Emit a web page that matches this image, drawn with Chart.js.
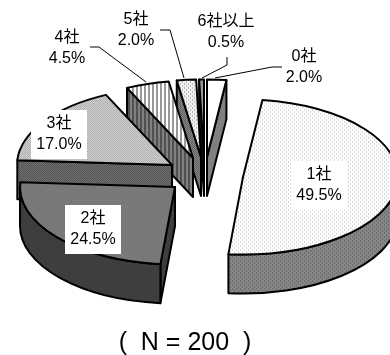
<!DOCTYPE html>
<html>
<head>
<meta charset="utf-8">
<style>
  html, body { margin: 0; padding: 0; background: #fff; }
  canvas { display: block; }
</style>
<script src="https://cdn.jsdelivr.net/npm/chart.js@4"></script>
</head>
<body>
<canvas id="chart" width="390" height="355"></canvas>
<script>
// Data, clockwise from the top
const categories = ["0社", "1社", "2社", "3社", "4社", "5社", "6社以上"];
const shares = [2.0, 49.5, 24.5, 17.0, 4.5, 2.0, 0.5];
const note = "(  N = 200  )";

// Layout of the exploded 3D pie
const FONT = '"Liberation Sans", "Noto Sans CJK JP", sans-serif';
const CX = 204.3, CY = 175, RADIUS = 155, SQUASH = 0.5, DEPTH = 39;
const EXPLODE_X = 38.5, EXPLODE_Y = 18;

// Small tile patterns: [size, base colour, dot colour, dot cells]
function tile(w, h, base, dot, cells, squashed) {
  const c = document.createElement("canvas");
  c.width = w; c.height = h;
  const g = c.getContext("2d");
  g.fillStyle = base;
  g.fillRect(0, 0, w, h);
  g.fillStyle = dot;
  cells.forEach(([x, y]) => g.fillRect(x, y, 1, 1));
  const p = g.createPattern(c, "repeat");
  // top faces are filled under the squash, so undo it for the tile
  if (squashed) p.setTransform(new DOMMatrix().scale(1, 1 / SQUASH));
  return p;
}
const dots4 = [[0, 0], [0, 1], [2, 2], [2, 3]];
const check = [[0, 0], [1, 1]];
const stripes = [[0, 0], [1, 0], [0, 1], [1, 1]];

const topFill = [
  "#ffffff",
  tile(4, 4, "#ffffff", "#d6d6d6", dots4, true),
  tile(2, 2, "#808080", "#727272", check, true),
  tile(2, 2, "#d0d0d0", "#b0b0b0", check, true),
  tile(4, 2, "#ffffff", "#999999", stripes, true),
  tile(4, 4, "#f0f0f0", "#b8b8b8", dots4, true),
  "#999999"
];
const wallFill = [
  "#808080",
  tile(4, 4, "#868686", "#6c6c6c", dots4, false),
  tile(2, 2, "#444444", "#383838", check, false),
  tile(2, 2, "#6c6c6c", "#585858", check, false),
  tile(4, 2, "#808080", "#505050", stripes, false),
  tile(2, 2, "#888888", "#606060", check, false),
  "#333333"
];

// Text block centres, with the two line baselines taken as centre -/+ 10.5
const labelSpots = [
  { x: 304, y: 67 },
  { x: 319, y: 185, box: true },
  { x: 93, y: 229, box: true },
  { x: 59, y: 134, box: true },
  { x: 67, y: 48 },
  { x: 136, y: 30 },
  { x: 226, y: 32 }
];
const leaders = [
  [[282, 67], [272, 67], [215, 78]],
  [[90, 47], [99, 47], [146, 82]],
  [[160, 30], [170, 30], [184, 78]],
  [[227, 57], [227, 65], [202, 78]]
];

function sliceCentre(arc) {
  const mid = (arc.startAngle + arc.endAngle) / 2;
  return {
    x: Math.round(CX + EXPLODE_X * Math.cos(mid)),
    y: Math.round(CY + EXPLODE_Y * Math.sin(mid))
  };
}

function drawCut(ctx, c, angle, R, fill) {
  const rx = c.x + R * Math.cos(angle);
  const ry = c.y + R * SQUASH * Math.sin(angle);
  ctx.beginPath();
  ctx.moveTo(c.x, c.y);
  ctx.lineTo(rx, ry);
  ctx.lineTo(rx, ry + DEPTH);
  ctx.lineTo(c.x, c.y + DEPTH);
  ctx.closePath();
  ctx.fillStyle = fill;
  ctx.fill();
  ctx.stroke();
}

const pie3d = {
  id: "pie3d",
  // replaces the flat draw: walls first, then the library's own arcs squashed
  beforeDatasetsDraw(chart) {
    const ctx = chart.ctx;
    const arcs = chart.getDatasetMeta(0).data.map((arc, i) => ({ arc, i, c: sliceCentre(arc) }));
    arcs.sort((a, b) => a.c.y - b.c.y);
    ctx.save();
    ctx.strokeStyle = "#000";
    ctx.lineWidth = 2;
    ctx.lineJoin = "round";
    arcs.forEach(({ arc, i, c }) => {
      const R = arc.outerRadius, a0 = arc.startAngle, a1 = arc.endAngle;
      if (Math.cos(a0) < -1e-6) drawCut(ctx, c, a0, R, wallFill[i]);
      if (Math.cos(a1) > 1e-6) drawCut(ctx, c, a1, R, wallFill[i]);
      const w0 = Math.max(a0, 0), w1 = Math.min(a1, Math.PI);
      if (w0 < w1) {
        ctx.beginPath();
        ctx.ellipse(c.x, c.y, R, R * SQUASH, 0, w0, w1);
        ctx.ellipse(c.x, c.y + DEPTH, R, R * SQUASH, 0, w1, w0, true);
        ctx.closePath();
        ctx.fillStyle = wallFill[i];
        ctx.fill();
        ctx.stroke();
      }
      ctx.save();
      ctx.translate(Math.round(c.x - arc.x), Math.round(c.y - arc.y * SQUASH));
      ctx.scale(1, SQUASH);
      arc.draw(ctx);
      ctx.restore();
      ctx.beginPath();
      ctx.moveTo(c.x, c.y);
      ctx.ellipse(c.x, c.y, R, R * SQUASH, 0, a0, a1);
      ctx.closePath();
      ctx.stroke();
    });
    ctx.restore();
    return false;
  },
  afterDraw(chart) {
    const ctx = chart.ctx;
    ctx.save();
    ctx.strokeStyle = "#000";
    ctx.lineWidth = 1;
    leaders.forEach(line => {
      ctx.beginPath();
      line.forEach(([x, y], k) => k ? ctx.lineTo(x, y) : ctx.moveTo(x, y));
      ctx.stroke();
    });
    ctx.font = "16px " + FONT;
    ctx.textAlign = "center";
    ctx.textBaseline = "middle";
    categories.forEach((name, i) => {
      const s = labelSpots[i];
      if (s.box) {
        ctx.fillStyle = "#fff";
        ctx.fillRect(s.x - 28, s.y - 24, 56, 49);
      }
      ctx.fillStyle = "#000";
      ctx.fillText(name, s.x, s.y - 10.5);
      ctx.fillText(shares[i].toFixed(1) + "%", s.x, s.y + 10.5);
    });
    ctx.restore();
  }
};

new Chart(document.getElementById("chart"), {
  type: "pie",
  data: {
    labels: categories,
    datasets: [{ data: shares, backgroundColor: topFill, borderWidth: 0 }]
  },
  options: {
    responsive: false,
    animation: false,
    events: [],
    radius: RADIUS,
    layout: { padding: { right: 20 } },
    plugins: {
      legend: { display: false },
      tooltip: { enabled: false },
      title: {
        display: true,
        position: "bottom",
        fullSize: false,
        text: note,
        color: "#000",
        font: { family: FONT, size: 25, weight: "normal" },
        padding: { top: 0, bottom: -3 }
      }
    }
  },
  plugins: [pie3d]
});
</script>
</body>
</html>
